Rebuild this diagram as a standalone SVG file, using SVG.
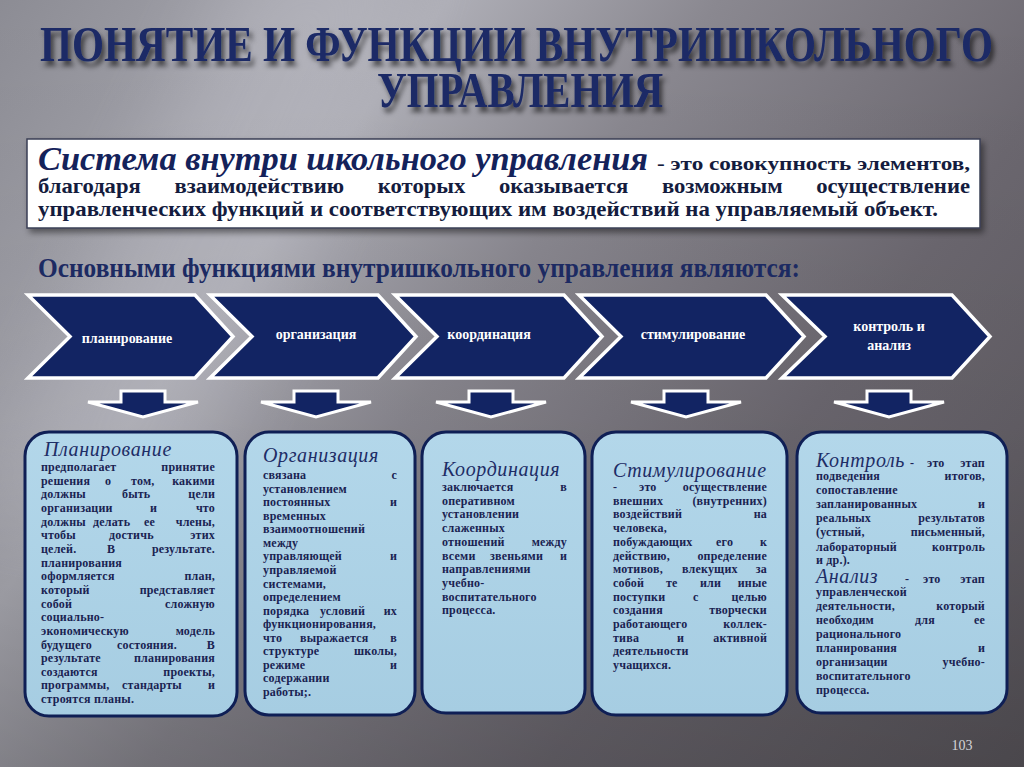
<svg xmlns="http://www.w3.org/2000/svg" width="1024" height="767" viewBox="0 0 1024 767">
<defs>
<linearGradient id="bg" gradientUnits="userSpaceOnUse" x1="0" y1="0" x2="1024" y2="767">
<stop offset="0" stop-color="#8c8c94"/>
<stop offset="0.28" stop-color="#aeaeb6"/>
<stop offset="0.45" stop-color="#8a8890"/>
<stop offset="0.7" stop-color="#6c6870"/>
<stop offset="1" stop-color="#5a565c"/>
</linearGradient>
<linearGradient id="vshade" x1="0" y1="0" x2="0" y2="1">
<stop offset="0" stop-color="#000" stop-opacity="0"/>
<stop offset="0.55" stop-color="#000" stop-opacity="0.05"/>
<stop offset="1" stop-color="#000" stop-opacity="0.18"/>
</linearGradient>
<linearGradient id="boxfill" x1="0" y1="0" x2="0" y2="1">
<stop offset="0" stop-color="#b3d7ea"/>
<stop offset="1" stop-color="#a6cde2"/>
</linearGradient>
<filter id="tshadow" x="-5%" y="-40%" width="110%" height="190%">
<feDropShadow dx="3" dy="5" stdDeviation="2.5" flood-color="#000" flood-opacity="0.6"/>
</filter>
<filter id="bshadow" x="-5%" y="-20%" width="110%" height="150%">
<feDropShadow dx="3" dy="4" stdDeviation="3" flood-color="#000" flood-opacity="0.45"/>
</filter>
<filter id="blur40"><feGaussianBlur stdDeviation="40"/></filter>
<polygon id="darrow" points="-22,0 22,0 22,11 55,11 0,26 -55,11 -22,11"/>
</defs>
<style>
.chev{fill:#122463;stroke:#ffffff;stroke-width:3.5;stroke-linejoin:miter}
.arr{fill:#122463;stroke:#ffffff;stroke-width:3}
.ct{font-family:"Liberation Serif",serif;font-weight:bold;font-size:14px;fill:#ffffff;text-anchor:middle}
.box{fill:url(#boxfill);stroke:#0f1f55;stroke-width:3}
.h{font-family:"Liberation Serif",serif;font-style:italic;font-size:20px;fill:#1e2d66;letter-spacing:0.6px}
.b{font-family:"Liberation Serif",serif;font-weight:bold;font-size:12px;fill:#1a2352;letter-spacing:0.2px}
.e{text-anchor:end}
.title{font-family:"Liberation Serif",serif;font-weight:bold;font-size:34px;fill:#1b2a66}
.defh{font-family:"Liberation Serif",serif;font-style:italic;font-weight:bold;font-size:34px;fill:#14225a}
.defs{font-family:"Liberation Serif",serif;font-weight:bold;font-size:19px;fill:#141c3e}
.defb{font-family:"Liberation Serif",serif;font-weight:bold;font-size:21px;fill:#141c3e}
.sub{font-family:"Liberation Serif",serif;font-weight:bold;font-size:27px;fill:#1c2a62}
</style>

<rect width="1024" height="767" fill="url(#bg)"/>
<polygon points="250,-60 430,-60 180,520 -20,520" fill="#c8c8d0" opacity="0.35" filter="url(#blur40)"/>
<rect width="1024" height="767" fill="url(#vshade)"/>

<g id="title" filter="url(#tshadow)">
<text class="title" transform="translate(0,61) scale(1,1.5)" x="40" y="0" textLength="953" lengthAdjust="spacingAndGlyphs">ПОНЯТИЕ И ФУНКЦИИ ВНУТРИШКОЛЬНОГО</text>
<text class="title" transform="translate(0,107) scale(1,1.5)" x="377" y="0" textLength="286" lengthAdjust="spacingAndGlyphs">УПРАВЛЕНИЯ</text>
</g>

<g id="definition">
<rect x="27" y="139" width="953" height="89" fill="#ffffff" stroke="#3a3f55" stroke-width="1.5" filter="url(#bshadow)"/>
<text class="defh" x="38" y="170" textLength="610" lengthAdjust="spacingAndGlyphs">Система внутри школьного управления</text>
<text class="defs" x="657" y="170" textLength="313" lengthAdjust="spacingAndGlyphs">- это совокупность элементов,</text>
<text class="defb" x="38" y="193" textLength="932" lengthAdjust="spacingAndGlyphs" word-spacing="26">благодаря взаимодействию которых оказывается возможным осуществление</text>
<text class="defb" x="38" y="216" textLength="900" lengthAdjust="spacingAndGlyphs">управленческих функций и соответствующих им воздействий на управляемый объект.</text>
</g>

<g id="subtitle">
<text class="sub" x="38" y="277" textLength="762" lengthAdjust="spacingAndGlyphs">Основными функциями внутришкольного управления являются:</text>
</g>

<g id="chev-planning">
<polygon class="chev" points="28,295 195,295 233,336.5 195,378 28,378 70,336.5"/>
<text class="ct" x="127" y="343">планирование</text>
</g>
<g id="chev-organization">
<polygon class="chev" points="210,295 378,295 416,336.5 378,378 210,378 252,336.5"/>
<text class="ct" x="316" y="339">организация</text>
</g>
<g id="chev-coordination">
<polygon class="chev" points="395,295 564,295 602,336.5 564,378 395,378 437,336.5"/>
<text class="ct" x="489" y="339">координация</text>
</g>
<g id="chev-stimulation">
<polygon class="chev" points="579,295 766,295 804,336.5 766,378 579,378 621,336.5"/>
<text class="ct" x="693" y="339">стимулирование</text>
</g>
<g id="chev-control">
<polygon class="chev" points="782,295 952,295 990,336.5 952,378 782,378 825,336.5"/>
<text class="ct" x="889" y="331">контроль и</text>
<text class="ct" x="889" y="350">анализ</text>
</g>

<g id="connectors">
<use href="#darrow" class="arr" x="143" y="391"/>
<use href="#darrow" class="arr" x="316" y="391"/>
<use href="#darrow" class="arr" x="491" y="391"/>
<use href="#darrow" class="arr" x="686" y="391"/>
<use href="#darrow" class="arr" x="889" y="391"/>
</g>

<g id="box-planning">
<rect class="box" x="25" y="432" width="212" height="284" rx="24"/>
<text class="h" x="44" y="456">Планирование</text>
<text class="b" x="41" y="471">предполагает</text><text class="b e" x="215" y="471">принятие</text>
<text class="b" y="484.7"><tspan x="41">решения</tspan><tspan x="105">о</tspan><tspan x="131">том,</tspan></text><text class="b e" x="215" y="484.7">какими</text>
<text class="b" y="498.3"><tspan x="41">должны</tspan><tspan x="122">быть</tspan></text><text class="b e" x="215" y="498.3">цели</text>
<text class="b" y="512"><tspan x="41">организации</tspan><tspan x="150">и</tspan></text><text class="b e" x="215" y="512">что</text>
<text class="b" y="525.6"><tspan x="41">должны</tspan><tspan x="93">делать</tspan><tspan x="144">ее</tspan></text><text class="b e" x="215" y="525.6">члены,</text>
<text class="b" y="539.3"><tspan x="41">чтобы</tspan><tspan x="109">достичь</tspan></text><text class="b e" x="215" y="539.3">этих</text>
<text class="b" y="552.9"><tspan x="41">целей.</tspan><tspan x="107">В</tspan></text><text class="b e" x="215" y="552.9">результате.</text>
<text class="b" x="41" y="566.6">планирования</text>
<text class="b" x="41" y="580.2">оформляется</text><text class="b e" x="215" y="580.2">план,</text>
<text class="b" x="41" y="593.9">который</text><text class="b e" x="215" y="593.9">представляет</text>
<text class="b" x="41" y="607.5">собой</text><text class="b e" x="215" y="607.5">сложную</text>
<text class="b" x="41" y="621.2">социально-</text>
<text class="b" x="41" y="634.8">экономическую</text><text class="b e" x="215" y="634.8">модель</text>
<text class="b" y="648.5"><tspan x="41">будущего</tspan><tspan x="117">состояния.</tspan></text><text class="b e" x="215" y="648.5">В</text>
<text class="b" x="41" y="662.1">результате</text><text class="b e" x="215" y="662.1">планирования</text>
<text class="b" x="41" y="675.8">создаются</text><text class="b e" x="215" y="675.8">проекты,</text>
<text class="b" y="689.4"><tspan x="41">программы,</tspan><tspan x="122">стандарты</tspan></text><text class="b e" x="215" y="689.4">и</text>
<text class="b" x="41" y="703.1">строятся планы.</text>
</g>

<g id="box-organization">
<rect class="box" x="245" y="432" width="170" height="283" rx="24"/>
<text class="h" x="263" y="462">Организация</text>
<text class="b" x="263" y="479">связана</text><text class="b e" x="397" y="479">с</text>
<text class="b" x="263" y="492.6">установлением</text>
<text class="b" x="263" y="506.1">постоянных</text><text class="b e" x="397" y="506.1">и</text>
<text class="b" x="263" y="519.7">временных</text>
<text class="b" x="263" y="533.2">взаимоотношений</text>
<text class="b" x="263" y="546.8">между</text>
<text class="b" x="263" y="560.4">управляющей</text><text class="b e" x="397" y="560.4">и</text>
<text class="b" x="263" y="573.9">управляемой</text>
<text class="b" x="263" y="587.5">системами,</text>
<text class="b" x="263" y="601">определением</text>
<text class="b" y="614.6"><tspan x="263">порядка</tspan><tspan x="320">условий</tspan></text><text class="b e" x="397" y="614.6">их</text>
<text class="b" x="263" y="628.2">функционирования,</text>
<text class="b" y="641.7"><tspan x="263">что</tspan><tspan x="300">выражается</tspan></text><text class="b e" x="397" y="641.7">в</text>
<text class="b" x="263" y="655.3">структуре</text><text class="b e" x="397" y="655.3">школы,</text>
<text class="b" x="263" y="668.8">режиме</text><text class="b e" x="397" y="668.8">и</text>
<text class="b" x="263" y="682.4">содержании</text>
<text class="b" x="263" y="696">работы;.</text>
</g>

<g id="box-coordination">
<rect class="box" x="422" y="432" width="163" height="281" rx="24"/>
<text class="h" x="442" y="476">Координация</text>
<text class="b" x="442" y="491">заключается</text><text class="b e" x="567" y="491">в</text>
<text class="b" x="442" y="504.7">оперативном</text>
<text class="b" x="442" y="518.4">установлении</text>
<text class="b" x="442" y="532.1">слаженных</text>
<text class="b" x="442" y="545.8">отношений</text><text class="b e" x="567" y="545.8">между</text>
<text class="b" y="559.5"><tspan x="442">всеми</tspan><tspan x="490">звеньями</tspan></text><text class="b e" x="567" y="559.5">и</text>
<text class="b" x="442" y="573.2">направлениями</text>
<text class="b" x="442" y="586.9">учебно-</text>
<text class="b" x="442" y="600.6">воспитательного</text>
<text class="b" x="442" y="614.3">процесса.</text>
</g>

<g id="box-stimulation">
<rect class="box" x="592" y="432" width="195" height="283" rx="24"/>
<text class="h" x="613" y="477">Стимулирование</text>
<text class="b" y="491"><tspan x="613">-</tspan><tspan x="639">это</tspan></text><text class="b e" x="767" y="491">осуществление</text>
<text class="b" x="613" y="504.7">внешних</text><text class="b e" x="767" y="504.7">(внутренних)</text>
<text class="b" x="613" y="518.4">воздействий</text><text class="b e" x="767" y="518.4">на</text>
<text class="b" x="613" y="532.1">человека,</text>
<text class="b" y="545.8"><tspan x="613">побуждающих</tspan><tspan x="716">его</tspan></text><text class="b e" x="767" y="545.8">к</text>
<text class="b" x="613" y="559.5">действию,</text><text class="b e" x="767" y="559.5">определение</text>
<text class="b" y="573.2"><tspan x="613">мотивов,</tspan><tspan x="682">влекущих</tspan></text><text class="b e" x="767" y="573.2">за</text>
<text class="b" y="586.9"><tspan x="613">собой</tspan><tspan x="666">те</tspan><tspan x="700">или</tspan></text><text class="b e" x="767" y="586.9">иные</text>
<text class="b" y="600.6"><tspan x="613">поступки</tspan><tspan x="693">с</tspan></text><text class="b e" x="767" y="600.6">целью</text>
<text class="b" x="613" y="614.3">создания</text><text class="b e" x="767" y="614.3">творчески</text>
<text class="b" x="613" y="628">работающего</text><text class="b e" x="767" y="628">коллек-</text>
<text class="b" y="641.7"><tspan x="613">тива</tspan><tspan x="677">и</tspan></text><text class="b e" x="767" y="641.7">активной</text>
<text class="b" x="613" y="655.4">деятельности</text>
<text class="b" x="613" y="669.1">учащихся.</text>
</g>

<g id="box-control">
<rect class="box" x="797" y="432" width="210" height="281" rx="24"/>
<text class="h" x="816" y="467">Контроль</text>
<text class="b" y="467"><tspan x="910">-</tspan><tspan x="927">это</tspan></text><text class="b e" x="985" y="467">этап</text>
<text class="b" x="816" y="480">подведения</text><text class="b e" x="985" y="480">итогов,</text>
<text class="b" x="816" y="494.1">сопоставление</text>
<text class="b" x="816" y="508.2">запланированных</text><text class="b e" x="985" y="508.2">и</text>
<text class="b" x="816" y="522.3">реальных</text><text class="b e" x="985" y="522.3">результатов</text>
<text class="b" x="816" y="536.4">(устный,</text><text class="b e" x="985" y="536.4">письменный,</text>
<text class="b" x="816" y="550.5">лабораторный</text><text class="b e" x="985" y="550.5">контроль</text>
<text class="b" x="816" y="563.5">и др.).</text>
<text class="h" x="816" y="583">Анализ</text>
<text class="b" y="583"><tspan x="905">-</tspan><tspan x="923">это</tspan></text><text class="b e" x="985" y="583">этап</text>
<text class="b" x="816" y="596">управленческой</text>
<text class="b" x="816" y="610">деятельности,</text><text class="b e" x="985" y="610">который</text>
<text class="b" y="624"><tspan x="816">необходим</tspan><tspan x="915">для</tspan></text><text class="b e" x="985" y="624">ее</text>
<text class="b" x="816" y="638">рационального</text>
<text class="b" x="816" y="652">планирования</text><text class="b e" x="985" y="652">и</text>
<text class="b" x="816" y="666">организации</text><text class="b e" x="985" y="666">учебно-</text>
<text class="b" x="816" y="680">воспитательного</text>
<text class="b" x="816" y="694">процесса.</text>
</g>

<text x="962" y="750" font-family="Liberation Serif, serif" font-size="14" fill="#d4d4d8" text-anchor="middle">103</text>
</svg>
